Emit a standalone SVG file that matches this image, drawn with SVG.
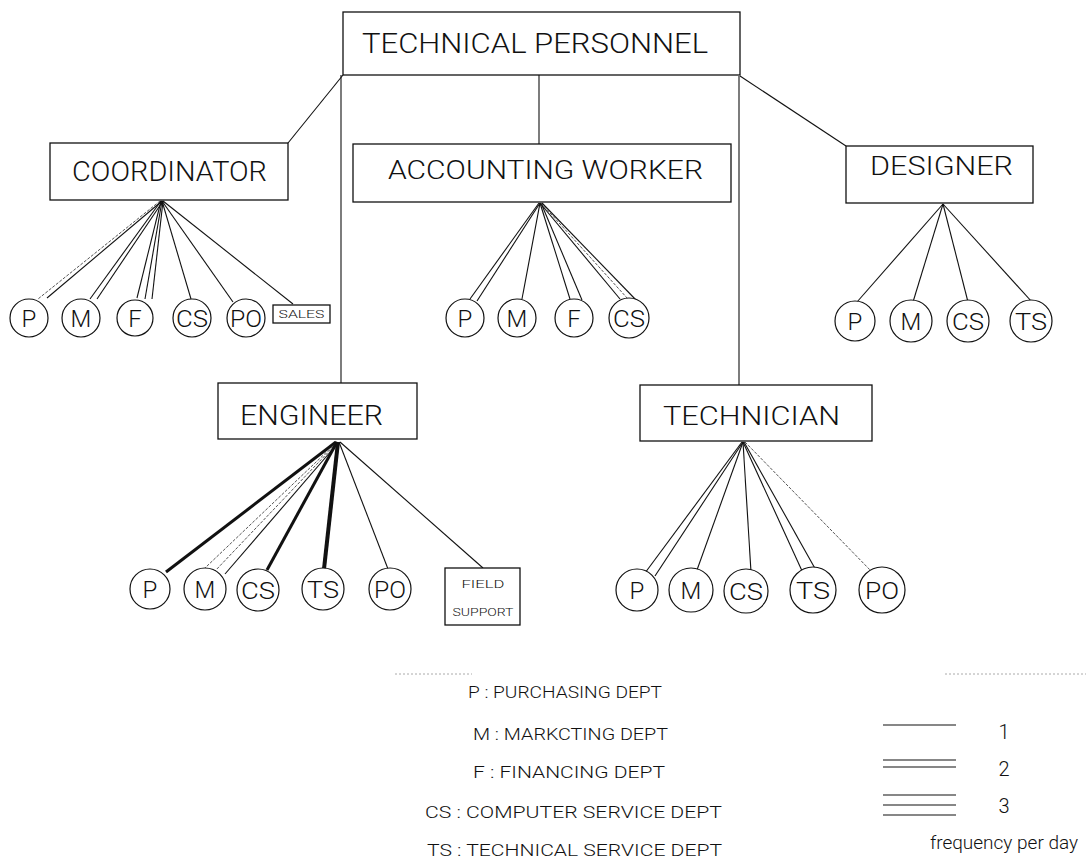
<svg xmlns="http://www.w3.org/2000/svg" width="1089" height="867" viewBox="0 0 1089 867">
<style>
  .box{fill:#fff;stroke:#111;stroke-width:1.3}
  .c{fill:#fff;stroke:#111;stroke-width:1.2}
  .ln{stroke:#111;stroke-width:1.1;fill:none}
  .lt{stroke:#555;stroke-width:1;fill:none;stroke-dasharray:3 1.5}
  .t{font-family:Roboto,"DejaVu Sans",sans-serif;font-weight:300;fill:#111}
  .big{font-size:28px}
  .mid{font-size:25px}
  .cl{font-size:24px;text-anchor:middle}
  .sm{font-size:11px;text-anchor:middle}
  .lg{font-size:17px}
  .num{font-size:20px;text-anchor:middle}
</style>
<rect width="1089" height="867" fill="#fff"/>

<g id="connectors">
  <!-- hierarchy -->
  <line class="ln" x1="343" y1="75" x2="288" y2="143"/>
  <line class="ln" x1="539" y1="75" x2="539" y2="144"/>
  <line class="ln" x1="740" y1="76" x2="846" y2="146"/>
  <line class="ln" x1="341" y1="75" x2="341" y2="383"/>
  <line class="ln" x1="739" y1="76" x2="739" y2="385"/>
  <!-- coordinator fan -->
  <line class="lt" x1="160" y1="201" x2="38" y2="299"/>
  <line class="ln" x1="162" y1="201" x2="47" y2="298"/>
  <line class="ln" x1="161" y1="201" x2="90" y2="299"/>
  <line class="ln" x1="163" y1="201" x2="97" y2="299"/>
  <line class="ln" x1="161" y1="201" x2="137" y2="298"/>
  <line class="ln" x1="162" y1="201" x2="145" y2="299"/>
  <line class="ln" x1="163" y1="201" x2="152" y2="299"/>
  <line class="ln" x1="162" y1="201" x2="191" y2="299"/>
  <line class="ln" x1="162" y1="201" x2="233" y2="302"/>
  <line class="ln" x1="163" y1="201" x2="293" y2="304"/>
  <!-- accounting fan -->
  <line class="ln" x1="539" y1="203" x2="470" y2="299"/>
  <line class="ln" x1="540" y1="203" x2="477" y2="301"/>
  <line class="ln" x1="540" y1="203" x2="522" y2="299"/>
  <line class="ln" x1="540" y1="203" x2="570" y2="299"/>
  <line class="ln" x1="541" y1="203" x2="582" y2="300"/>
  <line class="ln" x1="540" y1="203" x2="620" y2="299"/>
  <line class="lt" x1="541" y1="203" x2="628" y2="299"/>
  <line class="ln" x1="542" y1="203" x2="637" y2="301"/>
  <!-- designer fan -->
  <line class="ln" x1="943" y1="204" x2="857" y2="302"/>
  <line class="ln" x1="943" y1="204" x2="913" y2="302"/>
  <line class="ln" x1="943" y1="204" x2="968" y2="302"/>
  <line class="ln" x1="943" y1="204" x2="1032" y2="302"/>
  <!-- engineer fan -->
  <line x1="336" y1="442" x2="166" y2="572" stroke="#111" stroke-width="3"/>
  <line class="lt" x1="336" y1="443" x2="205" y2="568"/>
  <line class="lt" x1="337" y1="443" x2="215" y2="571"/>
  <line class="ln" x1="338" y1="443" x2="225" y2="574"/>
  <line x1="337" y1="442" x2="267" y2="570" stroke="#111" stroke-width="3"/>
  <line x1="338" y1="442" x2="324" y2="569" stroke="#111" stroke-width="4"/>
  <line class="ln" x1="339" y1="442" x2="388" y2="569"/>
  <line class="ln" x1="340" y1="442" x2="483" y2="568"/>
  <!-- technician fan -->
  <line class="ln" x1="742" y1="442" x2="645" y2="573"/>
  <line class="ln" x1="743" y1="442" x2="655" y2="576"/>
  <line class="ln" x1="743" y1="442" x2="697" y2="570"/>
  <line class="ln" x1="743" y1="442" x2="751" y2="572"/>
  <line class="ln" x1="743" y1="442" x2="803" y2="573"/>
  <line class="ln" x1="744" y1="442" x2="817" y2="572"/>
  <line class="lt" x1="745" y1="442" x2="873" y2="573"/>
</g>

<g id="technical-personnel">
  <rect class="box" x="343" y="12" width="397" height="63"/>
  <text class="t big" x="362" y="53" textLength="346" lengthAdjust="spacingAndGlyphs">TECHNICAL PERSONNEL</text>
</g>
<g id="coordinator">
  <rect class="box" x="50" y="143" width="238" height="57"/>
  <text class="t big" x="72" y="181" textLength="195" lengthAdjust="spacingAndGlyphs">COORDINATOR</text>
</g>
<g id="accounting-worker">
  <rect class="box" x="353" y="144" width="378" height="58"/>
  <text class="t mid" x="388" y="179" textLength="315" lengthAdjust="spacingAndGlyphs">ACCOUNTING WORKER</text>
</g>
<g id="designer">
  <rect class="box" x="846" y="146" width="187" height="57"/>
  <text class="t mid" x="870" y="175" textLength="143" lengthAdjust="spacingAndGlyphs">DESIGNER</text>
</g>
<g id="engineer">
  <rect class="box" x="218" y="383" width="199" height="56"/>
  <text class="t big" x="240" y="425" textLength="143" lengthAdjust="spacingAndGlyphs">ENGINEER</text>
</g>
<g id="technician">
  <rect class="box" x="640" y="385" width="232" height="56"/>
  <text class="t mid" x="663" y="425" textLength="177" lengthAdjust="spacingAndGlyphs">TECHNICIAN</text>
</g>

<!-- coordinator departments -->
<g id="coord-p"><circle class="c" cx="29" cy="318" r="19"/><text class="t cl" x="29" y="327">P</text></g>
<g id="coord-m"><circle class="c" cx="81" cy="318" r="19"/><text class="t cl" x="81" y="327">M</text></g>
<g id="coord-f"><circle class="c" cx="135" cy="318" r="18"/><text class="t cl" x="135" y="327">F</text></g>
<g id="coord-cs"><circle class="c" cx="192" cy="318" r="19"/><text class="t cl" x="192" y="327" textLength="32" lengthAdjust="spacingAndGlyphs">CS</text></g>
<g id="coord-po"><circle class="c" cx="246" cy="318" r="19"/><text class="t cl" x="246" y="327" textLength="32" lengthAdjust="spacingAndGlyphs">PO</text></g>
<g id="coord-sales"><rect class="box" x="273" y="305" width="57" height="18" stroke-width="1.1"/><text class="t sm" x="301.5" y="318" textLength="46" lengthAdjust="spacingAndGlyphs">SALES</text></g>

<!-- accounting departments -->
<g id="acc-p"><circle class="c" cx="465" cy="318" r="19"/><text class="t cl" x="465" y="327">P</text></g>
<g id="acc-m"><circle class="c" cx="517" cy="318" r="19"/><text class="t cl" x="517" y="327">M</text></g>
<g id="acc-f"><circle class="c" cx="574" cy="318" r="19"/><text class="t cl" x="574" y="327">F</text></g>
<g id="acc-cs"><circle class="c" cx="629" cy="318" r="20"/><text class="t cl" x="629" y="327" textLength="32" lengthAdjust="spacingAndGlyphs">CS</text></g>

<!-- designer departments -->
<g id="des-p"><circle class="c" cx="855" cy="321" r="20"/><text class="t cl" x="855" y="330">P</text></g>
<g id="des-m"><circle class="c" cx="911" cy="321" r="21"/><text class="t cl" x="911" y="330">M</text></g>
<g id="des-cs"><circle class="c" cx="968" cy="321" r="21"/><text class="t cl" x="968" y="330" textLength="32" lengthAdjust="spacingAndGlyphs">CS</text></g>
<g id="des-ts"><circle class="c" cx="1031" cy="321" r="21"/><text class="t cl" x="1031" y="330" textLength="32" lengthAdjust="spacingAndGlyphs">TS</text></g>

<!-- engineer departments -->
<g id="eng-p"><circle class="c" cx="150" cy="589" r="20"/><text class="t cl" x="150" y="598">P</text></g>
<g id="eng-m"><circle class="c" cx="205" cy="589" r="21"/><text class="t cl" x="205" y="598">M</text></g>
<g id="eng-cs"><circle class="c" cx="258" cy="590" r="21"/><text class="t cl" x="258" y="599" textLength="34" lengthAdjust="spacingAndGlyphs">CS</text></g>
<g id="eng-ts"><circle class="c" cx="323" cy="589" r="21"/><text class="t cl" x="323" y="598" textLength="32" lengthAdjust="spacingAndGlyphs">TS</text></g>
<g id="eng-po"><circle class="c" cx="390" cy="589" r="21"/><text class="t cl" x="390" y="598" textLength="32" lengthAdjust="spacingAndGlyphs">PO</text></g>
<g id="eng-field"><rect class="box" x="445" y="568" width="75" height="57" stroke-width="1.1"/>
  <text class="t sm" x="483" y="588" font-size="12" textLength="43" lengthAdjust="spacingAndGlyphs">FIELD</text>
  <text class="t sm" x="483" y="616" font-size="12" textLength="61" lengthAdjust="spacingAndGlyphs">SUPPORT</text></g>

<!-- technician departments -->
<g id="tech-p"><circle class="c" cx="637" cy="590" r="21"/><text class="t cl" x="637" y="599">P</text></g>
<g id="tech-m"><circle class="c" cx="691" cy="590" r="22"/><text class="t cl" x="691" y="599">M</text></g>
<g id="tech-cs"><circle class="c" cx="746" cy="591" r="22"/><text class="t cl" x="746" y="600" textLength="34" lengthAdjust="spacingAndGlyphs">CS</text></g>
<g id="tech-ts"><circle class="c" cx="813" cy="590" r="23"/><text class="t cl" x="813" y="599" textLength="34" lengthAdjust="spacingAndGlyphs">TS</text></g>
<g id="tech-po"><circle class="c" cx="882" cy="590" r="23"/><text class="t cl" x="882" y="599" textLength="34" lengthAdjust="spacingAndGlyphs">PO</text></g>

<!-- legend -->
<g id="legend">
  <line x1="395" y1="674" x2="472" y2="674" stroke="#aaa" stroke-width="1" stroke-dasharray="2 2"/>
  <line x1="945" y1="674" x2="1086" y2="674" stroke="#aaa" stroke-width="1" stroke-dasharray="2 2"/>
  <text class="t lg" x="468" y="698" textLength="194" lengthAdjust="spacingAndGlyphs">P : PURCHASING DEPT</text>
  <text class="t lg" x="473" y="740" textLength="195" lengthAdjust="spacingAndGlyphs">M : MARKCTING DEPT</text>
  <text class="t lg" x="473" y="778" textLength="192" lengthAdjust="spacingAndGlyphs">F : FINANCING DEPT</text>
  <text class="t lg" x="425" y="818" textLength="297" lengthAdjust="spacingAndGlyphs">CS : COMPUTER SERVICE DEPT</text>
  <text class="t lg" x="427" y="856" textLength="295" lengthAdjust="spacingAndGlyphs">TS : TECHNICAL SERVICE DEPT</text>
  <line class="ln" x1="883" y1="725" x2="956" y2="725"/>
  <line class="ln" x1="883" y1="760" x2="956" y2="760"/>
  <line class="ln" x1="883" y1="767" x2="956" y2="767"/>
  <line class="ln" x1="883" y1="795" x2="956" y2="795"/>
  <line class="ln" x1="883" y1="805" x2="956" y2="805"/>
  <line class="ln" x1="883" y1="815" x2="956" y2="815"/>
  <text class="t num" x="1004" y="739">1</text>
  <text class="t num" x="1004" y="776">2</text>
  <text class="t num" x="1004" y="813">3</text>
  <text class="t" x="1004" y="849" font-size="19" text-anchor="middle">frequency per day</text>
</g>
</svg>
